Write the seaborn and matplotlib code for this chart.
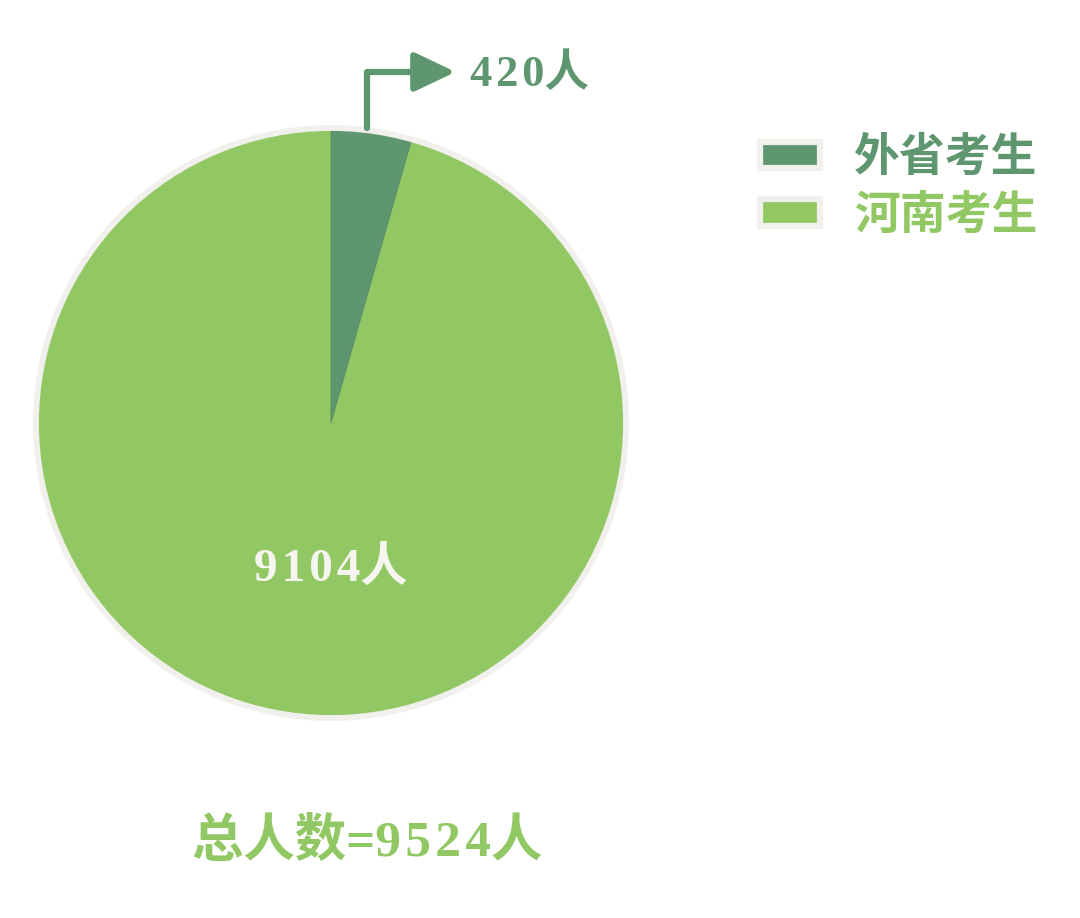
import matplotlib
matplotlib.use("Agg")
import matplotlib.pyplot as plt
import seaborn as sns
from matplotlib.patches import Patch, Circle

# === données ===
categories = ["外省考生", "河南考生"]
effectifs = [420, 9104]
couleurs = ["#5E9670", "#92C864"]
total = sum(effectifs)

sns.set_theme(style="white")
polices = ["Liberation Serif", "Noto Sans CJK SC", "DejaVu Sans"]
plt.rcParams["font.family"] = polices


def espace(s):
    # léger espacement des chiffres (hair space)
    return "\u200a".join(s)


fig = plt.figure(figsize=(10.8, 9.18), dpi=100)
cx, cy, r = 331, 423, 298
ax = fig.add_axes([(cx - r) / 1080, (918 - cy - r) / 918, 2 * r / 1080, 2 * r / 918])

wedges, _ = ax.pie(effectifs, colors=couleurs, startangle=90, counterclock=False,
                   radius=0.985,
                   wedgeprops=dict(edgecolor="#5A8A6A", linewidth=0.6))
ax.add_patch(Circle((0, 0), 0.99, fill=False, edgecolor="#F2F0EC", linewidth=4.2))
ax.set_xlim(-1.0, 1.0)
ax.set_ylim(-1.0, 1.0)
ax.set_aspect("equal")
ax.axis("off")

# étiquette de la grande part
ax.text(0, -0.49, espace(str(effectifs[1])) + "人", ha="center", va="center", fontsize=34,
        fontweight="bold", color="#F7F5F0", family=polices)

# flèche vers la petite part
ax.annotate("", xy=(0.418, 1.178), xytext=(0.121, 0.99),
            arrowprops=dict(arrowstyle="-|>,head_length=2.1,head_width=1.0",
                            connectionstyle="angle,angleA=90,angleB=0,rad=0",
                            color=couleurs[0], lw=4.5, shrinkA=0, shrinkB=0),
            annotation_clip=False)
ax.text(0.468, 1.17, espace(str(effectifs[0])) + "人", ha="left", va="center", fontsize=32,
        fontweight="bold", color=couleurs[0], family=polices)

# légende
handles = [Patch(facecolor=c, edgecolor="#F2F0EC", linewidth=4.5) for c in couleurs]
leg = fig.legend(handles, categories, loc="upper left", bbox_to_anchor=(719 / 1080, 1 - 94 / 918),
                 frameon=False, handlelength=1.3, handleheight=0.5, handletextpad=0.75,
                 labelspacing=0.25,
                 prop=dict(family=["Noto Sans CJK SC"], weight="bold", size=33))
for t, c in zip(leg.get_texts(), couleurs):
    t.set_color(c)

# total
fig.text(367 / 1080, 1 - 842 / 918, "总人数=" + espace(str(total)) + "人", ha="center", va="center",
         fontsize=37, fontweight="bold", color=couleurs[1], family=polices)

plt.savefig("out.png", dpi=100)
plt.close()
